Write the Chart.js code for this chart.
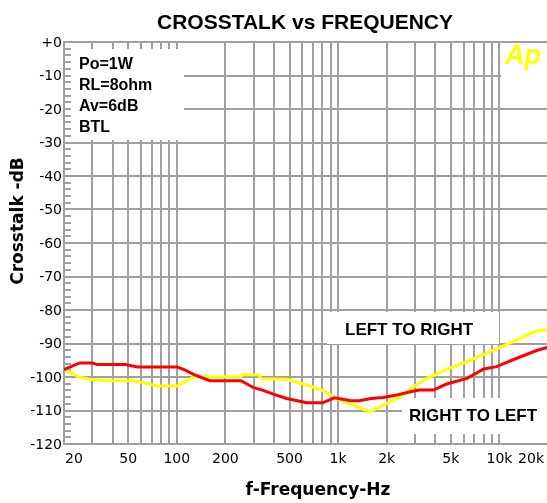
<!DOCTYPE html>
<html><head><meta charset="utf-8">
<script src="https://cdn.jsdelivr.net/npm/chart.js@4"></script>
<style>html,body{margin:0;padding:0;background:#fff;overflow:hidden}#wrap{width:549px;height:503px;position:relative}</style>
</head><body><div id="wrap"><canvas id="c"></canvas></div>
<script>
// ---- data ----
const gridFreqs = [20,30,40,50,60,70,80,90,100,200,300,400,500,600,700,800,900,1000,2000,3000,4000,5000,6000,7000,8000,9000,10000,20000];
const xLabelValues = [20,50,100,200,500,1000,2000,5000,10000,20000];
const xLabelTexts = ['20','50','100','200','500','1k','2k','5k','10k','20k'];
const yTickValues = [0,-10,-20,-30,-40,-50,-60,-70,-80,-90,-100,-110,-120];
const yTickTexts = ['+0','-10','-20','-30','-40','-50','-60','-70','-80','-90','-100','-110','-120'];

const rtlFreq = [20,25,30,32,48,57,100,112,127,160,250,300,340,400,480,640,800,950,1200,1350,1600,1900,2300,2800,3200,3900,4700,6300,8000,9600,12800,17000,20000];
const rtlDb   = [-97.8,-95.8,-95.8,-96.3,-96.3,-97.0,-97.0,-97.9,-99.2,-101.1,-101.1,-103.2,-103.9,-105.2,-106.4,-107.7,-107.7,-106.2,-107.1,-107.1,-106.4,-106.1,-105.4,-104.4,-103.9,-103.9,-102.1,-100.4,-97.6,-96.9,-94.4,-92.1,-91.1];

const ltrFreq = [20,25,29,37,54,65,75,100,115,127,170,250,255,320,335,480,640,810,980,1240,1580,2000,2540,2930,3550,4700,6600,9600,12800,17000,20000];
const ltrDb   = [-97.6,-100.1,-100.7,-101.1,-101.1,-101.9,-102.7,-102.7,-101.2,-99.9,-99.9,-99.9,-99.3,-99.3,-100.5,-100.7,-102.4,-104.1,-106.4,-108.4,-110.4,-107.9,-105.4,-102.9,-100.4,-97.7,-95.0,-91.6,-89.0,-86.2,-85.8];

const infoLines = ['Po=1W','RL=8ohm','Av=6dB','BTL'];

const toPts = (f, d) => f.map((v, i) => ({x: v, y: d[i]}));
const GRID = '#a0a0a0';

const decor = {
  id: 'decor',
  beforeDatasetsDraw(chart) {
    const ctx = chart.ctx, xs = chart.scales.x, ys = chart.scales.y, ca = chart.chartArea;
    ctx.save();
    ctx.fillStyle = '#fff';
    // info box, label boxes, logo box
    ctx.fillRect(ca.left + 2, ca.top + 2, 118, 96);
    ctx.fillRect(327, 312, 172, 32);
    ctx.fillRect(402, 398, 150, 36);
    ctx.fillRect(501, ca.top + 2, 50, 46);
    // short ticks
    ctx.strokeStyle = GRID; ctx.lineWidth = 2;
    ctx.beginPath();
    gridFreqs.forEach(v => {
      const px = Math.round(xs.getPixelForValue(v));
      ctx.moveTo(px, ca.top); ctx.lineTo(px, ca.top + 7);
      ctx.moveTo(px, ca.bottom); ctx.lineTo(px, ca.bottom - 7);
    });
    for (let v = -120; v <= 0; v += 2) {
      const py = Math.round(ys.getPixelForValue(v));
      ctx.moveTo(ca.left, py); ctx.lineTo(ca.left + 7, py);
    }
    ctx.stroke();
    ctx.restore();
  },
  afterDraw(chart) {
    const ctx = chart.ctx, xs = chart.scales.x, ys = chart.scales.y, ca = chart.chartArea;
    ctx.save();
    ctx.fillStyle = '#000';
    // title
    ctx.font = 'bold 21px "Liberation Sans", Arial, sans-serif';
    ctx.textAlign = 'center'; ctx.textBaseline = 'alphabetic';
    ctx.fillText('CROSSTALK vs FREQUENCY', 305, 29);
    // y tick labels
    ctx.font = '14px "DejaVu Sans", sans-serif';
    ctx.textAlign = 'right'; ctx.textBaseline = 'middle';
    yTickValues.forEach((v, i) => ctx.fillText(yTickTexts[i], 62, ys.getPixelForValue(v) + 1));
    // x tick labels
    ctx.textBaseline = 'middle';
    xLabelValues.forEach((v, i) => {
      const px = xs.getPixelForValue(v);
      if (i === 0) { ctx.textAlign = 'left'; ctx.fillText(xLabelTexts[i], px + 1, 459); }
      else if (i === xLabelValues.length - 1) { ctx.textAlign = 'right'; ctx.fillText(xLabelTexts[i], 544, 459); }
      else { ctx.textAlign = 'center'; ctx.fillText(xLabelTexts[i], px, 459); }
    });
    // axis titles
    ctx.font = 'bold 17px "DejaVu Sans", sans-serif';
    ctx.textAlign = 'center'; ctx.textBaseline = 'middle';
    ctx.fillText('f-Frequency-Hz', 318, 491);
    ctx.save();
    ctx.translate(19, 221); ctx.rotate(-Math.PI / 2);
    ctx.fillText('Crosstalk -dB', 0, 0);
    ctx.restore();
    // info text
    ctx.font = 'bold 16px "Liberation Sans", Arial, sans-serif';
    ctx.textAlign = 'left'; ctx.textBaseline = 'alphabetic';
    infoLines.forEach((t, i) => ctx.fillText(t, 79, 69 + i * 21));
    // series labels
    ctx.font = 'bold 17px "Liberation Sans", Arial, sans-serif';
    ctx.fillText('LEFT TO RIGHT', 345, 335);
    ctx.fillText('RIGHT TO LEFT', 409, 421);
    // logo
    ctx.fillStyle = '#ffff00';
    ctx.font = 'italic bold 27px "Liberation Sans", Arial, sans-serif';
    ctx.fillText('Ap', 505, 64);
    ctx.restore();
  }
};

new Chart(document.getElementById('c'), {
  type: 'line',
  data: {
    datasets: [
      {label: 'RIGHT TO LEFT', data: toPts(rtlFreq, rtlDb), borderColor: '#ff0000', borderWidth: 3, pointRadius: 0, tension: 0, fill: false},
      {label: 'LEFT TO RIGHT', data: toPts(ltrFreq, ltrDb), borderColor: '#ffff00', borderWidth: 3, pointRadius: 0, tension: 0, fill: false}
    ]
  },
  options: {
    responsive: true, maintainAspectRatio: false, animation: false, devicePixelRatio: 1,
    layout: {padding: {left: 64, top: 42, right: 1, bottom: 59}},
    plugins: {legend: {display: false}, tooltip: {enabled: false}, title: {display: false}},
    scales: {
      x: {
        type: 'logarithmic', min: 20, max: 20000,
        ticks: {display: false},
        grid: {color: GRID, lineWidth: 2, drawTicks: false},
        border: {display: true, color: GRID, width: 2},
        afterBuildTicks: s => { s.ticks = gridFreqs.map(v => ({value: v})); },
        afterFit: s => { s.height = 0; }
      },
      y: {
        type: 'linear', min: -120, max: 0,
        ticks: {display: false, stepSize: 10},
        grid: {color: GRID, lineWidth: 2, drawTicks: false},
        border: {display: true, color: GRID, width: 2},
        afterFit: s => { s.width = 0; }
      }
    }
  },
  plugins: [decor]
});
</script>
</body></html>
